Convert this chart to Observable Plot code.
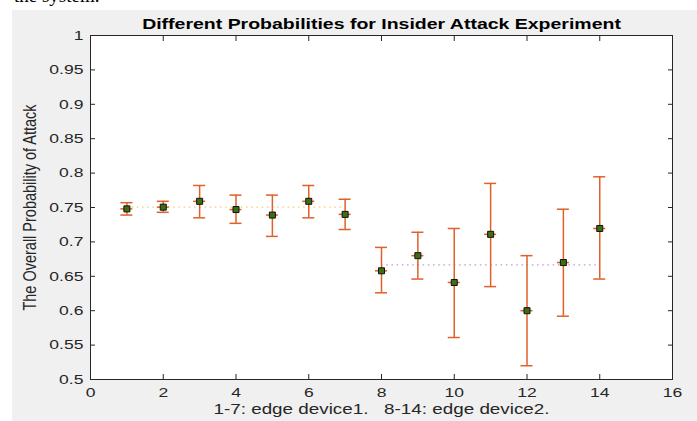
<!DOCTYPE html>
<html>
<head>
<meta charset="utf-8">
<script src="https://cdn.jsdelivr.net/npm/d3@7"></script>
<script src="https://cdn.jsdelivr.net/npm/@observablehq/plot@0.6"></script>
<style>
  html, body { margin: 0; padding: 0; background: #fff; width: 697px; height: 421px; overflow: hidden; position: relative; }
  #top { position: absolute; left: 14px; top: -15px; font: 19px "Liberation Serif", "Times New Roman", serif; color: #000; }
  #fig { position: absolute; left: 12px; top: 10px; width: 685px; height: 411px; background: #f0f0f0; }
  #fig svg { display: block; }
</style>
</head>
<body>
<div id="top">the system.</div>
<div id="fig"></div>
<script>
const titleText = "Different Probabilities for Insider Attack Experiment";
const yLabelText = "The Overall Probability of Attack";
const xLabelText = "1-7: edge device1. \u00a0 8-14: edge device2.";

const devices = [1, 2, 3, 4, 5, 6, 7, 8, 9, 10, 11, 12, 13, 14];
const meanValues = [0.748, 0.7505, 0.759, 0.747, 0.739, 0.759, 0.740, 0.658, 0.680, 0.641, 0.711, 0.600, 0.670, 0.7195];
const upperValues = [0.757, 0.759, 0.782, 0.768, 0.768, 0.782, 0.762, 0.692, 0.714, 0.7195, 0.785, 0.680, 0.7475, 0.7946];
const lowerValues = [0.739, 0.743, 0.735, 0.727, 0.708, 0.735, 0.718, 0.626, 0.646, 0.561, 0.635, 0.520, 0.592, 0.646];

const groupStart = [1, 8];
const groupEnd = [7, 14];
const groupLevel = [0.7505, 0.6667];
const groupColor = ["#edb120", "#a25cb0"];

const xTicks = [0, 2, 4, 6, 8, 10, 12, 14, 16];
const yTicks = [0.5, 0.55, 0.6, 0.65, 0.7, 0.75, 0.8, 0.85, 0.9, 0.95, 1];

const data = devices.map((x, i) => ({x, mean: meanValues[i], hi: upperValues[i], lo: lowerValues[i]}));
const groups = groupStart.map((s, i) => ({x1: s, x2: groupEnd[i], y: groupLevel[i], c: groupColor[i]}));

const fmt = d => String(+d.toFixed(2));
const axisColor = "#262626";
const errColor = "#e0602a";

const chart = Plot.plot({
  width: 685,
  height: 411,
  marginTop: 25,
  marginBottom: 42,
  marginLeft: 78,
  marginRight: 25,
  style: {fontFamily: "'Liberation Sans', Arial, sans-serif", fontSize: "13.5px", background: "#f0f0f0", color: axisColor},
  x: {domain: [0, 16]},
  y: {domain: [0.5, 1]},
  marks: [
    Plot.frame({fill: "white", stroke: null}),
    Plot.ruleY(groups, {x1: "x1", x2: "x2", y: "y", stroke: "c", strokeWidth: 1.2, strokeOpacity: 0.6, strokeDasharray: "1.6,3.6"}),
    Plot.ruleX(data, {x: "x", y1: "lo", y2: "hi", stroke: errColor, strokeWidth: 1.5}),
    Plot.ruleY(data, {x1: "x", x2: "x", y: "hi", insetLeft: -6, insetRight: -6, stroke: errColor, strokeWidth: 1.5}),
    Plot.ruleY(data, {x1: "x", x2: "x", y: "lo", insetLeft: -6, insetRight: -6, stroke: errColor, strokeWidth: 1.5}),
    Plot.ruleY(data, {x1: "x", x2: "x", y: "mean", insetLeft: -6, insetRight: -6, stroke: errColor, strokeWidth: 1.5}),
    Plot.dot(data, {x: "x", y: "mean", symbol: "square", r: 3.4, fill: "#3d6f12", stroke: "#111", strokeWidth: 1}),
    Plot.axisX({anchor: "bottom", ticks: xTicks, tickSize: -5, tickFormat: () => "", label: null, stroke: axisColor}),
    Plot.axisX({anchor: "top", ticks: xTicks, tickSize: -5, tickFormat: () => "", label: null, stroke: axisColor}),
    Plot.axisY({anchor: "left", ticks: yTicks, tickSize: -5, tickFormat: () => "", label: null, stroke: axisColor}),
    Plot.axisY({anchor: "right", ticks: yTicks, tickSize: -5, tickFormat: () => "", label: null, stroke: axisColor}),
    Plot.axisX({anchor: "bottom", ticks: xTicks, tickSize: 0, tickPadding: 8, tickFormat: fmt, label: null, fill: axisColor}),
    Plot.axisY({anchor: "left", ticks: yTicks, tickSize: 0, tickPadding: 7, tickFormat: fmt, label: null, fill: axisColor}),
    Plot.frame({stroke: axisColor, strokeWidth: 1}),
    Plot.text([titleText], {frameAnchor: "top", dy: -17, fontWeight: "bold", fontSize: 15, fill: "#000"}),
    Plot.text([xLabelText], {frameAnchor: "bottom", dy: 34, fontSize: 14.5, fill: axisColor}),
    Plot.text([yLabelText], {frameAnchor: "left", dx: -59, rotate: -90, textAnchor: "middle", lineAnchor: "middle", fontSize: 14.5, fill: axisColor})
  ]
});

document.getElementById("fig").appendChild(chart);

// The reference's MATLAB text is horizontally wide: stretch each text on screen-x around its own anchor
const sx = 1.3;
chart.querySelectorAll("text").forEach(t => {
  const fs = parseFloat(getComputedStyle(t).fontSize) || 13.5;
  const num = v => {
    if (v == null || v === "") return 0;
    const f = parseFloat(v);
    return /em$/.test(String(v).trim()) ? f * fs : f;
  };
  const xv = num(t.getAttribute("x"));
  const yv = num(t.getAttribute("y"));
  const tr = t.getAttribute("transform") || "";
  const list = t.transform.baseVal;
  const M = list.numberOfItems ? list.consolidate().matrix : {a: 1, b: 0, c: 0, d: 1, e: 0, f: 0};
  const ax = M.a * xv + M.c * yv + M.e;
  t.setAttribute("transform", `translate(${ax},0) scale(${sx},1) translate(${-ax},0) ` + tr);
});
</script>
</body>
</html>
